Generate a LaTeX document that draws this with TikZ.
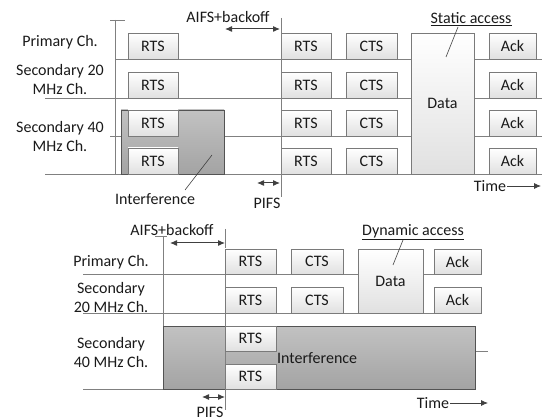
\documentclass[tikz,border=0pt]{standalone}
\usepackage{fontspec}
\setmainfont{Carlito}
\usetikzlibrary{arrows.meta}
\definecolor{lncol}{HTML}{808080}
\definecolor{bxcol}{HTML}{7A7A7A}
\definecolor{arcol}{HTML}{404040}
\definecolor{txcol}{HTML}{1A1A1A}
\tikzset{
  frm/.style={rectangle, draw=bxcol, line width=0.9pt, top color=white, bottom color=black!12, inner sep=0pt, text=txcol},
  itf/.style={rectangle, draw=arcol!90, line width=0.9pt, top color=black!24, bottom color=black!36, inner sep=0pt},
  chan/.style={draw=lncol, line width=0.9pt},
  lbl/.style={inner sep=0pt, text=txcol, align=center},
  dbl/.style={draw=arcol, line width=1pt, {Latex[length=7pt,width=6pt]}-{Latex[length=7pt,width=6pt]}},
  sgl/.style={draw=arcol, line width=0.8pt, -{Latex[length=7pt,width=6pt]}},
  lead/.style={draw=arcol, line width=0.6pt}
}
\begin{document}
\begin{tikzpicture}[x=1pt,y=-1pt, font=\fontsize{16}{19}\selectfont]
\useasboundingbox (0,0) rectangle (542,420);
% ================= TOP =================
% channel lines
\coordinate (t1a) at (115,59);  \coordinate (t1b) at (542,59);
\coordinate (t2a) at (45,98);   \coordinate (t2b) at (542,98);
\coordinate (t3a) at (110,136); \coordinate (t3b) at (542,136);
\coordinate (t4a) at (45,174);  \coordinate (t4b) at (542,174);
\draw[chan] (t1a) -- (t1b);
\draw[chan] (t2a) -- (t2b);
\draw[chan] (t3a) -- (t3b);
\draw[chan] (t4a) -- (t4b);
% vertical lines
\coordinate (tv1a) at (115,20); \coordinate (tv1b) at (115,174);
\coordinate (tk1a) at (110,20); \coordinate (tk1b) at (125,20);
\draw[chan] (tv1a) -- (tv1b);
\draw[chan] (tk1a) -- (tk1b);
% interference
\node[itf, minimum width=103pt, minimum height=64pt] (tint) at (172.5,142) {};
% boxes
\node[frm, minimum width=50pt, minimum height=26pt] (trts1) at (153,46) {RTS};
\node[frm, minimum width=50pt, minimum height=26pt] (trts2) at (153,85) {RTS};
\node[frm, minimum width=50pt, minimum height=26pt] (trts3) at (153,123) {RTS};
\node[frm, minimum width=50pt, minimum height=26pt] (trts4) at (153,161) {RTS};
\node[frm, minimum width=50pt, minimum height=26pt] (trtsb1) at (306,46) {RTS};
\node[frm, minimum width=50pt, minimum height=26pt] (trtsb2) at (306,85) {RTS};
\node[frm, minimum width=50pt, minimum height=26pt] (trtsb3) at (306,123) {RTS};
\node[frm, minimum width=50pt, minimum height=26pt] (trtsb4) at (306,161) {RTS};
\node[frm, minimum width=51pt, minimum height=26pt] (tcts1) at (371.5,46) {CTS};
\node[frm, minimum width=51pt, minimum height=26pt] (tcts2) at (371.5,85) {CTS};
\node[frm, minimum width=51pt, minimum height=26pt] (tcts3) at (371.5,123) {CTS};
\node[frm, minimum width=51pt, minimum height=26pt] (tcts4) at (371.5,161) {CTS};
\node[frm, minimum width=63pt, minimum height=141pt] (tdata) at (442.5,103.5) {Data};
\node[frm, minimum width=47pt, minimum height=26pt] (tack1) at (512.5,46) {Ack};
\node[frm, minimum width=47pt, minimum height=26pt] (tack2) at (512.5,85) {Ack};
\node[frm, minimum width=47pt, minimum height=26pt] (tack3) at (512.5,123) {Ack};
\node[frm, minimum width=47pt, minimum height=26pt] (tack4) at (512.5,161) {Ack};
% second vertical
\coordinate (tv2a) at (281,18); \coordinate (tv2b) at (281,197);
\draw[chan] (tv2a) -- (tv2b);
% labels
\node[lbl] (tlp) at (60,42) {Primary Ch.};
\node[lbl] (tls20) at (60,80) {Secondary 20\\MHz Ch.};
\node[lbl] (tls40) at (60,136.5) {Secondary 40\\MHz Ch.};
\node[lbl] (taifs) at (228,17) {AIFS+backoff};
\coordinate (taa) at (225,29); \coordinate (tab) at (280,29);
\draw[dbl] (taa) -- (tab);
\coordinate (tpa) at (257,183); \coordinate (tpb) at (280,183);
\draw[dbl] (tpa) -- (tpb);
\node[lbl] (tpifs) at (267,203) {PIFS};
\node[lbl] (tinttxt) at (155,199) {Interference};
\coordinate (tila) at (185,190); \coordinate (tilb) at (212,155);
\draw[lead] (tila) -- (tilb);
\node[lbl] (tstat) at (471,19) {\underline{Static access}};
\coordinate (tsla) at (458,27); \coordinate (tslb) at (446,57);
\draw[lead] (tsla) -- (tslb);
\node[lbl] (ttime) at (490,186) {Time};
\coordinate (ttb) at (541,186);
\draw[sgl] (ttime.east) ++(1,0) -- (ttb);
% ================= BOTTOM =================
\coordinate (b1a) at (83,274);  \coordinate (b1b) at (481,274);
\coordinate (b2a) at (83,313);  \coordinate (b2b) at (481,313);
\coordinate (b4a) at (83,389);  \coordinate (b4b) at (475,389);
\coordinate (b3a) at (475,351); \coordinate (b3b) at (488,351);
\draw[chan] (b1a) -- (b1b);
\draw[chan] (b2a) -- (b2b);
\draw[chan] (b4a) -- (b4b);
\draw[chan] (b3a) -- (b3b);
\coordinate (bv1a) at (163,236); \coordinate (bv1b) at (163,389);
\coordinate (bk1a) at (155,236); \coordinate (bk1b) at (167,236);
\draw[chan] (bv1a) -- (bv1b);
\draw[chan] (bk1a) -- (bk1b);
\node[itf, minimum width=312pt, minimum height=63pt] (bint) at (319,357.5) {};
\coordinate (bv2a) at (225,229); \coordinate (bv2b) at (225,410);
\draw[chan] (bv2a) -- (bv2b);
\node[frm, minimum width=51pt, minimum height=25pt] (brts1) at (250.5,261.5) {RTS};
\node[frm, minimum width=51pt, minimum height=26pt] (brts2) at (250.5,300) {RTS};
\node[frm, minimum width=51pt, minimum height=25pt] (brts3) at (250.5,338.5) {RTS};
\node[frm, minimum width=51pt, minimum height=25pt] (brts4) at (250.5,376.5) {RTS};
\node[frm, minimum width=52pt, minimum height=25pt] (bcts1) at (317,261.5) {CTS};
\node[frm, minimum width=52pt, minimum height=26pt] (bcts2) at (317,300) {CTS};
\node[frm, minimum width=65pt, minimum height=64pt] (bdata) at (390.5,281) {Data};
\node[frm, minimum width=47pt, minimum height=25pt] (back1) at (457.5,261.5) {Ack};
\node[frm, minimum width=47pt, minimum height=26pt] (back2) at (457.5,300) {Ack};
\node[lbl, anchor=west] (binttxt) at (277,358) {Interference};
\node[lbl] (blp) at (111,262) {Primary Ch.};
\node[lbl] (bls20) at (111,298) {Secondary\\20 MHz Ch.};
\node[lbl] (bls40) at (111,353) {Secondary\\40 MHz Ch.};
\node[lbl] (baifs) at (172,230) {AIFS+backoff};
\coordinate (baa) at (170,243); \coordinate (bab) at (225,243);
\draw[dbl] (baa) -- (bab);
\node[lbl] (bdyn) at (413,232) {\underline{Dynamic access}};
\coordinate (bdla) at (403,240); \coordinate (bdlb) at (393,265);
\draw[lead] (bdla) -- (bdlb);
\node[lbl] (btime) at (433,403) {Time};
\coordinate (btb) at (488,403);
\draw[sgl] (btime.east) ++(1,0) -- (btb);
\coordinate (bpa) at (202,397); \coordinate (bpb) at (225,397);
\draw[dbl] (bpa) -- (bpb);
\node[lbl] (bpifs) at (210,412) {PIFS};
\end{tikzpicture}
\end{document}
